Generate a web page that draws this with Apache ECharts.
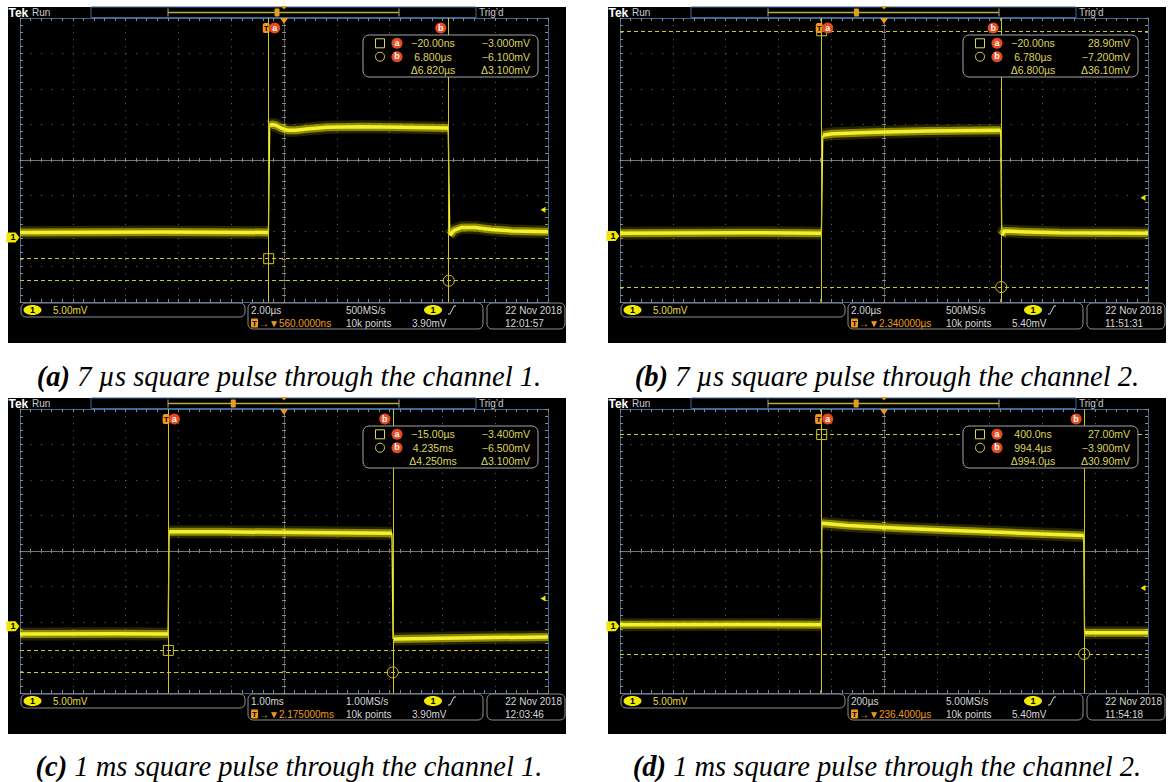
<!DOCTYPE html>
<html><head><meta charset="utf-8">
<script src="https://cdn.jsdelivr.net/npm/echarts/dist/echarts.min.js"></script>
<style>
html,body{margin:0;padding:0;background:#fff;width:1168px;height:782px;overflow:hidden}
.pbg{position:absolute;background:#000;width:558px;height:336px}
#chart{position:absolute;left:0;top:0;width:1168px;height:782px}
.cap{position:absolute;width:578px;text-align:center;font:italic 28.5px 'Liberation Serif','Times New Roman',serif;color:#000;line-height:34px;white-space:nowrap}
.cap b{font-weight:bold}
</style></head><body>
<div class="pbg" style="left:8px;top:7px"></div>
<div class="pbg" style="left:608px;top:7px"></div>
<div class="pbg" style="left:8px;top:398px"></div>
<div class="pbg" style="left:608px;top:398px"></div>
<div id="chart"></div>
<div class="cap" style="left:0px;top:360px"><b>(a)</b> 7 µs square pulse through the channel 1.</div>
<div class="cap" style="left:598px;top:360px"><b>(b)</b> 7 µs square pulse through the channel 2.</div>
<div class="cap" style="left:0px;top:750px"><b>(c)</b> 1 ms square pulse through the channel 1.</div>
<div class="cap" style="left:598px;top:750px"><b>(d)</b> 1 ms square pulse through the channel 2.</div>
<script>
// ---------- Panel (a): time in µs, voltage in mV ----------
const aXRange = [-9.44, 10.56];
const aYRange = [-9.1, 30.9];
const aPre  = [[-9.44, 0.7], [-4.0, 0.75], [-0.03, 0.7]];
const aHigh = [[0.02, 15.7], [0.1, 15.9], [0.25, 15.8], [0.45, 15.4], [0.7, 15.1], [1.0, 15.1], [1.5, 15.3], [2.2, 15.5], [3.5, 15.6], [5.0, 15.5], [6.78, 15.4]];
const aPost = [[6.84, 0.3], [7.0, 1.0], [7.3, 1.4], [7.8, 1.4], [8.4, 1.1], [9.2, 0.9], [10.56, 0.8]];
const aCursorT = [-0.02, 6.8];
const aCursorV = [-3.0, -6.1];
const aTrig = 3.9;
const aReadout = ['−20.00ns', '−3.000mV', '6.800µs', '−6.100mV', 'Δ6.820µs', 'Δ3.100mV'];
const aBottom = ['5.00mV', '2.00µs', '→▼560.0000ns', '500MS/s', '10k points', '3.90mV', '22 Nov 2018', '12:01:57'];

// ---------- Panel (b): time in µs, voltage in mV ----------
const bXRange = [-7.66, 12.34];
const bYRange = [-9.3, 30.7];
const bPre  = [[-7.66, 0.4], [-3.0, 0.45], [-0.03, 0.4]];
const bHigh = [[0.02, 14.2], [0.4, 14.4], [2.0, 14.6], [4.0, 14.8], [6.76, 14.9]];
const bPost = [[6.8, 0.1], [6.9, 0.7], [7.5, 0.6], [9.0, 0.45], [12.34, 0.4]];
const bCursorT = [-0.02, 6.78];
const bCursorV = [28.9, -7.2];
const bTrig = 5.4;
const bReadout = ['−20.00ns', '28.90mV', '6.780µs', '−7.200mV', 'Δ6.800µs', 'Δ36.10mV'];
const bBottom = ['5.00mV', '2.00µs', '→▼2.340000µs', '500MS/s', '10k points', '5.40mV', '22 Nov 2018', '11:51:31'];

// ---------- Panel (c): time in ms, voltage in mV ----------
const cXRange = [-2.825, 7.175];
const cYRange = [-9.4, 30.6];
const cPre  = [[-2.825, -1.1], [-1.0, -1.05], [-0.02, -1.1]];
const cHigh = [[0.0, 13.3], [1.0, 13.3], [2.5, 13.2], [4.22, 13.1]];
const cPost = [[4.24, -1.8], [5.5, -1.65], [7.175, -1.5]];
const cCursorT = [-0.015, 4.235];
const cCursorV = [-3.4, -6.5];
const cTrig = 3.9;
const cReadout = ['−15.00µs', '−3.400mV', '4.235ms', '−6.500mV', 'Δ4.250ms', 'Δ3.100mV'];
const cBottom = ['5.00mV', '1.00ms', '→▼2.175000ms', '1.00MS/s', '10k points', '3.90mV', '22 Nov 2018', '12:03:46'];

// ---------- Panel (d): time in µs, voltage in mV ----------
const dXRange = [-763.6, 1236.4];
const dYRange = [-9.4, 30.6];
const dPre  = [[-763.6, 0.2], [-300, 0.25], [-1, 0.2]];
const dHigh = [[1, 14.5], [100, 14.2], [300, 13.8], [500, 13.5], [700, 13.2], [993, 12.8]];
const dPost = [[996, -0.9], [1236.4, -0.9]];
const dCursorT = [0.4, 994.4];
const dCursorV = [27.0, -3.9];
const dTrig = 5.4;
const dReadout = ['400.0ns', '27.00mV', '994.4µs', '−3.900mV', 'Δ994.0µs', 'Δ30.90mV'];
const dBottom = ['5.00mV', '200µs', '→▼236.4000µs', '5.00MS/s', '10k points', '5.40mV', '22 Nov 2018', '11:54:18'];

const panels = [
  {x: aXRange, y: aYRange, pre: aPre, high: aHigh, post: aPost, cT: aCursorT, cV: aCursorV, trig: aTrig, ro: aReadout, bt: aBottom},
  {x: bXRange, y: bYRange, pre: bPre, high: bHigh, post: bPost, cT: bCursorT, cV: bCursorV, trig: bTrig, ro: bReadout, bt: bBottom},
  {x: cXRange, y: cYRange, pre: cPre, high: cHigh, post: cPost, cT: cCursorT, cV: cCursorV, trig: cTrig, ro: cReadout, bt: cBottom},
  {x: dXRange, y: dYRange, pre: dPre, high: dHigh, post: dPost, cT: dCursorT, cV: dCursorV, trig: dTrig, ro: dReadout, bt: dBottom}
];

// ---------- layout / style ----------
const ORIGINS = [[8, 7], [608, 7], [8, 398], [608, 398]];
const GL = 12, GT = 11, GW = 528, GH = 284;
const BLUE = '#3e6896', TICK = {color: '#8a8a8a', width: 1};
const TRACE = '#f2f030', BAND = 'rgba(228,222,0,0.55)', HALO = 'rgba(210,205,0,0.18)', CUR = '#d0c624';
const ORG = '#f09a1a', RED = '#e64a1e', TXT = '#d6d6d6', RTXT = '#ddd45a', BOX = '#8e8e8e';
const FONT = "'Liberation Sans', Arial, sans-serif";

function gratX(gi, position, offset, color, type, split) {
  return {gridIndex: gi, type: 'value', min: 0, max: 10, interval: 1, position, offset, silent: true,
    axisLine: {show: true, onZero: false, lineStyle: {color, width: 1, type}},
    axisTick: {show: true, inside: true, length: 3, lineStyle: TICK},
    minorTick: {show: true, splitNumber: 5, length: 3, lineStyle: TICK},
    axisLabel: {show: false},
    splitLine: split ? {show: true, lineStyle: {color: '#676767', width: 1, type: [1, 6.1]}} : {show: false},
    minorSplitLine: {show: false}};
}
function gratY(gi, position, offset, color, type, split) {
  return {gridIndex: gi, type: 'value', min: 0, max: 8, interval: 1, position, offset, silent: true,
    axisLine: {show: true, onZero: false, lineStyle: {color, width: 1, type}},
    axisTick: {show: true, inside: true, length: 3, lineStyle: TICK},
    minorTick: {show: true, splitNumber: 5, length: 3, lineStyle: TICK},
    axisLabel: {show: false},
    splitLine: split ? {show: true, lineStyle: {color: '#676767', width: 1, type: [1, 9.56]}} : {show: false},
    minorSplitLine: {show: false}};
}

const option = {animation: false, backgroundColor: 'transparent', grid: [], xAxis: [], yAxis: [], series: [], graphic: []};

function txt(g, x, y, text, fill, size, align, weight) {
  g.push({type: 'text', x, y, z: 100, silent: true, style: {text, fill,
    font: (weight || 'normal') + ' ' + (size || 10) + 'px ' + FONT,
    align: align || 'left', verticalAlign: 'middle', textAlign: align || 'left', textVerticalAlign: 'middle'}});
}
function rect(g, x, y, w, h, r, fill, stroke) {
  g.push({type: 'rect', z: 99, silent: true, shape: {x, y, width: w, height: h, r},
    style: {fill: fill || 'none', stroke: stroke || null, lineWidth: 1}});
}

panels.forEach((p, i) => {
  const [ox, oy] = ORIGINS[i];
  option.grid.push({left: ox + GL, top: oy + GT, width: GW, height: GH, show: false});
  const cTick = {axisTick: {show: true, inside: true, length: 2, lineStyle: TICK}, minorTick: {show: true, splitNumber: 5, length: 2, lineStyle: TICK}};
  option.xAxis.push(gratX(i, 'bottom', 0, BLUE, 'solid', true));
  option.xAxis.push(gratX(i, 'top', 0, BLUE, 'solid', false));
  option.xAxis.push(Object.assign(gratX(i, 'bottom', -GH / 2, '#7a766b', 'solid', false), cTick));
  option.xAxis.push(Object.assign(gratX(i, 'top', -GH / 2, '#7a766b', 'solid', false), cTick));
  option.xAxis.push({gridIndex: i, type: 'value', min: p.x[0], max: p.x[1], show: false});
  option.yAxis.push(gratY(i, 'left', 0, BLUE, 'solid', true));
  option.yAxis.push(gratY(i, 'right', 0, BLUE, 'solid', false));
  option.yAxis.push(Object.assign(gratY(i, 'left', -GW / 2, '#6c685f', [3, 2], false), cTick));
  option.yAxis.push(Object.assign(gratY(i, 'right', -GW / 2, '#6c685f', [3, 2], false), cTick));
  option.yAxis.push({gridIndex: i, type: 'value', min: p.y[0], max: p.y[1], show: false});

  const xi = 5 * i + 4, yi = 5 * i + 4;
  const line = (data, w, color, z) => ({type: 'line', xAxisIndex: xi, yAxisIndex: yi, data, symbol: 'none',
    silent: true, animation: false, z, lineStyle: {width: w, color, cap: 'butt', join: 'round'}});
  [p.pre, p.high, p.post].forEach(d => {
    option.series.push(line(d, 13, HALO, 3));
    option.series.push(line(d, 8, BAND, 3));
    option.series.push(line(d, 3.5, TRACE, 4));
  });
  option.series.push(line([p.pre[p.pre.length - 1], p.high[0]], 1.3, TRACE, 4));
  const fall = line([p.high[p.high.length - 1], p.post[0]], 1.3, TRACE, 4);
  const yMax = p.y[1], tMid = (p.x[0] + p.x[1]) / 2;
  const lab = (t, c, s) => ({show: true, formatter: t, color: c, fontSize: s, fontWeight: 'bold', fontFamily: FONT, position: 'inside'});
  fall.markLine = {silent: true, symbol: ['none', 'none'], label: {show: false}, animation: false,
    data: [
      {xAxis: p.cT[0], lineStyle: {color: CUR, width: 1, type: 'solid'}},
      {xAxis: p.cT[1], lineStyle: {color: CUR, width: 1, type: 'solid'}},
      {yAxis: p.cV[0], lineStyle: {color: CUR, width: 1, type: [4, 3]}},
      {yAxis: p.cV[1], lineStyle: {color: CUR, width: 1, type: [4, 3]}}
    ]};
  fall.markPoint = {silent: true, animation: false, label: {show: false},
    data: [
      {coord: [p.cT[0], p.cV[0]], symbol: 'rect', symbolSize: 10, itemStyle: {color: 'rgba(0,0,0,0)', borderColor: CUR, borderWidth: 1}},
      {coord: [p.cT[1], p.cV[1]], symbol: 'circle', symbolSize: 11, itemStyle: {color: 'rgba(0,0,0,0)', borderColor: CUR, borderWidth: 1}},
      {coord: [0, yMax], symbol: 'roundRect', symbolSize: [7, 10], symbolOffset: [-3, 10], itemStyle: {color: ORG}, label: lab('T', '#000', 8)},
      {coord: [p.cT[0], yMax], symbol: 'circle', symbolSize: 11, symbolOffset: [6, 10], itemStyle: {color: RED}, label: lab('a', '#fff', 9)},
      {coord: [p.cT[1], yMax], symbol: 'circle', symbolSize: 11, symbolOffset: [-8, 10], itemStyle: {color: RED}, label: lab('b', '#fff', 9)},
      {coord: [tMid, yMax], symbol: 'triangle', symbolRotate: 180, symbolSize: [8, 6], symbolOffset: [0, 3], itemStyle: {color: ORG}},
      {coord: [p.x[0], 0], symbol: 'path://M0,0L9,0L13,5L9,10L0,10Z', symbolSize: [13, 10], symbolOffset: [-7, 0], itemStyle: {color: '#f0e600'}, label: lab('1', '#000', 9)},
      {coord: [p.x[1], p.trig], symbol: 'triangle', symbolRotate: 90, symbolSize: [6, 5], symbolOffset: [-5, 0], itemStyle: {color: '#f0e600'}}
    ]};
  option.series.push(fall);

  // ---- scope chrome (text and frames) ----
  const g = option.graphic;
  const X = v => ox + v, Y = v => oy + v;
  txt(g, X(0.5), Y(5.5), 'Tek', '#fff', 12, 'left', 'bold');
  txt(g, X(24), Y(5.5), 'Run', '#c8c8c8', 10);
  rect(g, X(83), Y(0), 385, 10.5, 0, '#000', BLUE);
  g.push({type: 'line', z: 100, silent: true, shape: {x1: X(160), y1: Y(5.5), x2: X(391), y2: Y(5.5)}, style: {stroke: '#b9ad3a', lineWidth: 1.5}});
  [160, 391].forEach(v => g.push({type: 'line', z: 100, silent: true, shape: {x1: X(v), y1: Y(1.5), x2: X(v), y2: Y(9.5)}, style: {stroke: '#9a9070', lineWidth: 1.2}}));
  const frac = (0 - p.x[0]) / (p.x[1] - p.x[0]);
  rect(g, X(160 + frac * 231 - 2.5), Y(1.5), 5, 8, 1, ORG, null);
  g.push({type: 'polygon', z: 101, silent: true, shape: {points: [[X(273), Y(-1)], [X(279), Y(-1)], [X(276), Y(2.5)]]}, style: {fill: ORG}});
  txt(g, X(471), Y(5.5), 'Trig’d', '#c8c8c8', 10);

  // readout box
  rect(g, X(355), Y(28), 175, 42, 6, '#000', '#a4a4a4');
  const rows = [36.3, 49.7, 63];
  rect(g, X(367.5), Y(rows[0] - 4.5), 9, 9, 0, 'none', RTXT);
  g.push({type: 'circle', z: 100, silent: true, shape: {cx: X(372), cy: Y(rows[1]), r: 4.5}, style: {fill: 'none', stroke: RTXT, lineWidth: 1}});
  ['a', 'b'].forEach((c, k) => {
    g.push({type: 'circle', z: 100, silent: true, shape: {cx: X(389), cy: Y(rows[k]), r: 5.5}, style: {fill: RED}});
    txt(g, X(389), Y(rows[k] - 0.5), c, '#fff', 9, 'center', 'bold');
  });
  for (let k = 0; k < 3; k++) {
    txt(g, X(425), Y(rows[k]), p.ro[2 * k], RTXT, 10.5, 'center');
    txt(g, X(522), Y(rows[k]), p.ro[2 * k + 1], RTXT, 10.5, 'right');
  }

  // bottom status bar
  const bt = p.bt;
  rect(g, X(13), Y(296), 224, 14, 5, '#000', BOX);
  g.push({type: 'ellipse', z: 100, silent: true, shape: {cx: X(24.5), cy: Y(303), rx: 9, ry: 5}, style: {fill: '#f2ea00'}});
  txt(g, X(24.5), Y(303), '1', '#000', 9, 'center', 'bold');
  txt(g, X(45), Y(303), bt[0], '#e6dc40', 10);
  rect(g, X(240), Y(296), 235, 26, 5, '#000', BOX);
  txt(g, X(243), Y(303), bt[1], TXT, 10);
  rect(g, X(243), Y(311.5), 7, 9, 1, ORG, null);
  txt(g, X(246.5), Y(316), 'T', '#000', 8, 'center', 'bold');
  txt(g, X(251), Y(316), bt[2], ORG, 10);
  txt(g, X(338), Y(303), bt[3], TXT, 10);
  txt(g, X(338), Y(316), bt[4], TXT, 10);
  g.push({type: 'ellipse', z: 100, silent: true, shape: {cx: X(425), cy: Y(303), rx: 9, ry: 5}, style: {fill: '#f2ea00'}});
  txt(g, X(425), Y(303), '1', '#000', 9, 'center', 'bold');
  g.push({type: 'polyline', z: 100, silent: true, shape: {points: [[X(440), Y(307)], [X(442), Y(307)], [X(446), Y(299)], [X(448), Y(299)]]}, style: {stroke: TXT, lineWidth: 1, fill: 'none'}});
  txt(g, X(404), Y(316), bt[5], TXT, 10);
  rect(g, X(479), Y(296), 78, 26, 5, '#000', BOX);
  txt(g, X(554), Y(303), bt[6], TXT, 10, 'right');
  txt(g, X(497), Y(316), bt[7], TXT, 10);
});

const chart = echarts.init(document.getElementById('chart'), null, {renderer: 'svg', width: 1168, height: 782});
chart.setOption(option);
</script>
</body></html>
